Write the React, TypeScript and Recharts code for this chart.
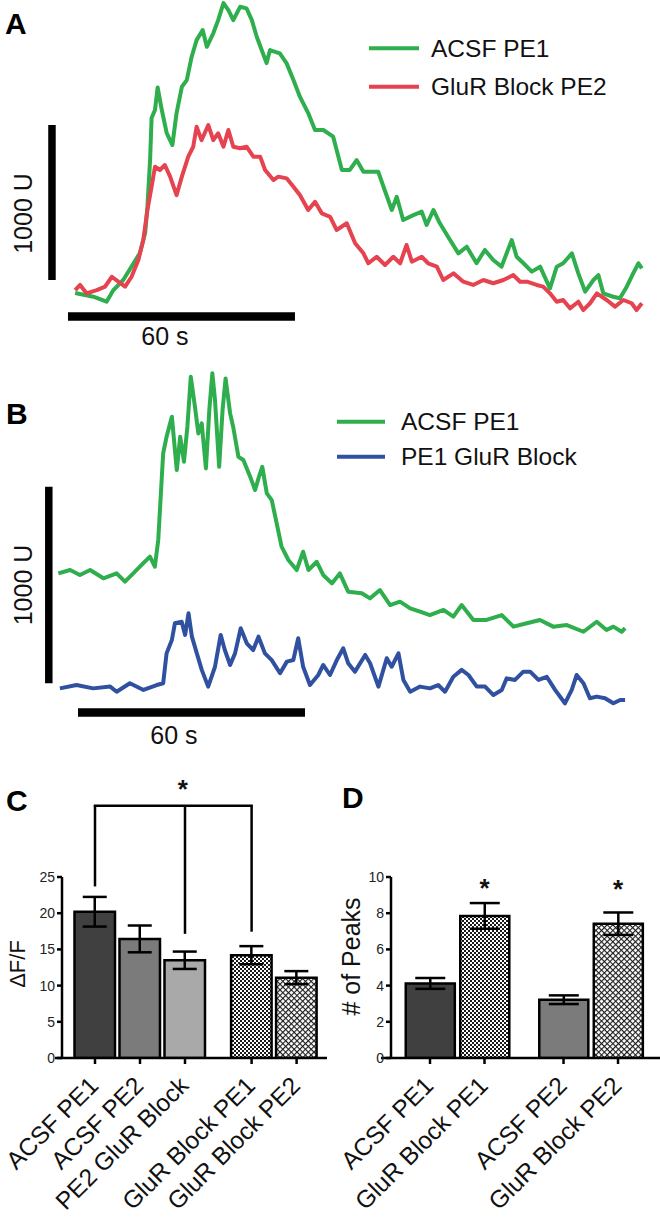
import React from 'react';
import {
  LineChart, Line, BarChart, Bar, Cell, XAxis, YAxis, ReferenceLine, ReferenceDot, ErrorBar, Legend,
} from 'recharts';

// traces: [time (s), fluorescence (U)]
const acsfPE1A: [number, number][] = [
  [1.9, 116], [6.7, 92], [10.2, 60], [12.0, 135], [14.6, 200], [16.8, 286], [19.0, 374], [20.4, 503],
  [21.0, 673], [21.7, 974], [22.1, 1245], [23.0, 1297], [23.7, 1443], [24.8, 1297], [26.1, 1148],
  [27.6, 1071], [28.7, 1277], [30.1, 1447], [31.4, 1490], [32.7, 1641], [34.0, 1748], [35.6, 1813],
  [36.7, 1705], [38.4, 1792], [39.7, 1877], [41.1, 1987], [42.4, 1942], [43.7, 1877], [45.5, 1963],
  [47.2, 1953], [48.6, 1877], [49.9, 1770], [51.2, 1684], [52.5, 1600], [53.4, 1684], [56.0, 1663],
  [57.8, 1598], [59.6, 1490], [61.3, 1383], [63.5, 1277], [65.3, 1168], [67.5, 1168], [70.1, 1125],
  [72.4, 910], [74.5, 910], [76.3, 974], [78.1, 899], [82.0, 899], [83.4, 802], [85.6, 652], [86.9, 737],
  [88.6, 587], [91.3, 619], [93.5, 641], [94.8, 555], [96.6, 652], [98.3, 566], [101.0, 458], [103.2, 372],
  [105.4, 415], [108.0, 308], [110.2, 394], [112.4, 329], [114.6, 286], [117.3, 458], [118.6, 350],
  [120.4, 308], [122.6, 254], [124.8, 286], [127.4, 146], [129.2, 286], [130.9, 308], [133.2, 372],
  [134.9, 243], [136.7, 125], [138.9, 200], [140.2, 232], [141.5, 114], [144.1, 92], [145.9, 82],
  [147.7, 157], [149.4, 243], [150.8, 308], [151.7, 275],
];

const glurBlockPE2A: [number, number][] = [
  [1.9, 135], [3.2, 168], [4.9, 114], [7.6, 135], [9.8, 157], [11.6, 221], [13.3, 189], [15.1, 157],
  [16.8, 221], [18.6, 329], [19.9, 458], [21.0, 652], [22.1, 802], [23.0, 931], [24.3, 910], [25.6, 942],
  [27.0, 867], [28.7, 748], [30.1, 867], [31.8, 996], [33.1, 1060], [34.0, 1189], [35.3, 1103], [37.1, 1200],
  [38.4, 1103], [39.7, 1147], [41.1, 1060], [42.4, 1168], [43.7, 1060], [45.5, 1050], [47.2, 1060],
  [49.0, 996], [50.8, 996], [52.1, 910], [54.3, 845], [55.6, 867], [57.8, 856], [59.6, 802], [61.3, 748],
  [63.5, 652], [65.3, 705], [67.1, 630], [69.3, 608], [71.0, 523], [73.7, 566], [75.9, 437], [78.1, 372],
  [79.4, 308], [81.6, 350], [83.8, 297], [86.0, 350], [87.8, 308], [89.5, 426], [90.9, 318], [93.5, 350],
  [95.2, 308], [97.5, 286], [99.2, 200], [101.9, 243], [104.5, 189], [107.1, 168], [109.8, 200],
  [112.4, 179], [115.1, 200], [117.7, 232], [119.5, 189], [121.3, 189], [123.9, 168], [125.6, 157],
  [127.4, 114], [129.2, 60], [130.9, 71], [132.7, 17], [134.9, 60], [136.2, 6], [138.0, 50], [139.8, 114],
  [142.4, 71], [144.6, 28], [146.8, 71], [149.0, 50], [150.3, 6], [151.7, 50],
];

const acsfPE1B: [number, number][] = [
  [0.1, 759], [3.2, 776], [5.8, 751], [8.5, 776], [12.0, 734], [15.5, 759], [17.7, 717], [19.9, 759],
  [22.1, 802], [24.3, 844], [25.6, 793], [26.5, 929], [27.2, 1166], [27.8, 1370], [28.7, 1454], [30.1, 1556],
  [31.4, 1285], [32.3, 1454], [33.3, 1327], [34.2, 1505], [35.1, 1759], [36.2, 1607], [37.1, 1471],
  [38.0, 1522], [39.1, 1293], [40.0, 1590], [40.8, 1777], [41.5, 1641], [42.6, 1301], [43.5, 1590],
  [44.3, 1751], [45.5, 1573], [46.3, 1505], [47.7, 1352], [49.0, 1336], [50.8, 1251], [52.1, 1183],
  [53.0, 1243], [54.0, 1301], [55.2, 1166], [56.5, 1132], [57.8, 1014], [59.1, 895], [60.9, 827],
  [63.1, 776], [64.8, 869], [66.2, 776], [68.4, 818], [70.1, 751], [72.4, 708], [74.5, 759], [76.7, 666],
  [80.3, 658], [82.5, 632], [85.1, 674], [87.8, 598], [90.4, 615], [93.1, 581], [95.7, 564], [98.3, 547],
  [101.9, 573], [104.5, 539], [106.7, 598], [109.8, 522], [113.3, 522], [117.3, 547], [120.4, 488],
  [123.9, 505], [127.4, 522], [130.9, 488], [134.5, 496], [138.9, 462], [142.4, 513], [145.0, 471],
  [146.8, 488], [149.0, 462], [149.9, 480],
];

const pe1GlurBlockB: [number, number][] = [
  [0.5, 174], [4.9, 191], [9.3, 174], [13.8, 183], [15.5, 157], [19.0, 200], [22.6, 166], [26.1, 191],
  [27.8, 200], [28.7, 352], [30.1, 420], [30.9, 505], [32.7, 513], [33.6, 446], [34.5, 556], [35.4, 437],
  [36.7, 352], [38.0, 268], [39.7, 183], [41.5, 284], [43.0, 446], [44.1, 369], [45.5, 293], [46.8, 352],
  [48.3, 480], [49.9, 403], [51.6, 369], [53.0, 437], [54.7, 352], [56.5, 318], [58.7, 251], [60.5, 310],
  [62.2, 318], [63.5, 429], [64.8, 284], [66.6, 191], [68.8, 242], [70.1, 293], [71.9, 242], [73.7, 318],
  [75.4, 378], [76.7, 302], [78.5, 259], [81.2, 344], [82.5, 302], [84.7, 183], [86.9, 327], [88.2, 284],
  [90.0, 352], [91.3, 217], [93.1, 157], [95.7, 183], [98.3, 174], [100.5, 191], [102.3, 157], [104.5, 233],
  [106.7, 268], [108.5, 242], [110.7, 183], [112.9, 183], [115.1, 140], [117.3, 166], [118.6, 225],
  [120.8, 217], [123.0, 259], [124.8, 259], [127.0, 217], [129.2, 233], [131.4, 166], [134.0, 98],
  [135.8, 166], [137.1, 242], [138.9, 200], [140.6, 124], [142.4, 132], [144.6, 124], [146.8, 98],
  [148.6, 115], [149.9, 115],
];

const scaleBarU = 1000;
const scaleBarS = 60;

// panel C
const dffLabels = ['ACSF PE1', 'ACSF PE2', 'PE2 GluR Block', 'GluR Block PE1', 'GluR Block PE2'];
const dffMeans = [20.2, 16.45, 13.5, 14.2, 11.1];
const dffSem = [2.05, 1.85, 1.2, 1.25, 0.9];
const dffGroup = [0, 0, 0, 1, 1];
const dffTicks = [0, 5, 10, 15, 20, 25];

// panel D
const peakLabels = ['ACSF PE1', 'GluR Block PE1', 'ACSF PE2', 'GluR Block PE2'];
const peakMeans = [4.12, 7.85, 3.22, 7.42];
const peakSem = [0.3, 0.71, 0.24, 0.62];
const peakGroup = [0, 0, 1, 1];
const peakTicks = [0, 2, 4, 6, 8, 10];

const GREEN = '#2fae4d';
const RED = '#e5434f';
const BLUE = '#3050a0';
const FONT = "'Liberation Sans', Arial, Helvetica, sans-serif";

const dffFills = ['#404040', '#7b7b7b', '#a9a9a9', 'url(#checker)', 'url(#diamond)'];
const peakFills = ['#404040', 'url(#checker)', '#7b7b7b', 'url(#diamond)'];

const toPoints = (pts: [number, number][]) => pts.map(([t, u]) => ({ t, u }));

const boxOf = (vb: any) => {
  if (vb && typeof vb.x === 'number') return vb;
  return {
    x: Math.min(vb.x1, vb.x2), y: Math.min(vb.y1, vb.y2),
    width: Math.abs(vb.x2 - vb.x1), height: Math.abs(vb.y2 - vb.y1),
  };
};

const traceLegend = (cfg: any) => (props: any) => {
  const items = props.payload || [];
  return (
    <svg width={300} height={90} style={{ display: 'block', overflow: 'visible' }}>
      {items.map((it: any, i: number) => (
        <g key={i}>
          <line x1={cfg.lineX[0]} x2={cfg.lineX[1]} y1={cfg.rowY[i]} y2={cfg.rowY[i]} stroke={it.color} strokeWidth={4} />
          <text x={cfg.textX} y={cfg.rowY[i] + 8.5} fontSize={24.5} fill="#111">{it.value}</text>
        </g>
      ))}
    </svg>
  );
};

const TracePanel = ({ cfg }: { cfg: any }) => (
  <div style={{ position: 'absolute', left: 0, top: cfg.top, width: 660, height: cfg.height }}>
    <LineChart width={660} height={cfg.height} margin={{ top: 0, right: 0, bottom: 0, left: 0 }}>
      <XAxis type="number" dataKey="t" domain={cfg.xDomain} allowDataOverflow hide />
      <YAxis type="number" domain={cfg.yDomain} allowDataOverflow hide />
      <ReferenceLine
        segment={[{ x: cfg.vBar.t, y: cfg.vBar.u0 }, { x: cfg.vBar.t, y: cfg.vBar.u0 + scaleBarU }]}
        stroke="#000" strokeWidth={7.5} ifOverflow="visible"
        label={(p: any) => {
          const b = boxOf(p.viewBox);
          const x = b.x + cfg.vBar.dx;
          const y = b.y + b.height / 2 + cfg.vBar.dy;
          return (
            <text x={x} y={y} transform={`rotate(-90 ${x} ${y})`} textAnchor="middle" fontSize={25} fill="#111">
              {`${scaleBarU} U`}
            </text>
          );
        }}
      />
      <ReferenceLine
        segment={[{ x: cfg.hBar.t0, y: cfg.hBar.u }, { x: cfg.hBar.t0 + scaleBarS, y: cfg.hBar.u }]}
        stroke="#000" strokeWidth={8.5} ifOverflow="visible"
        label={(p: any) => {
          const b = boxOf(p.viewBox);
          return (
            <text x={b.x + b.width / 2 + cfg.hBar.dx} y={b.y + cfg.hBar.dy} textAnchor="middle" fontSize={25} fill="#111">
              {`${scaleBarS} s`}
            </text>
          );
        }}
      />
      {cfg.traces.map((tr: any) => (
        <Line
          key={tr.name}
          data={toPoints(tr.data)}
          dataKey="u"
          name={tr.name}
          type="linear"
          stroke={tr.color}
          strokeWidth={4}
          strokeLinejoin="round"
          dot={false}
          activeDot={false}
          isAnimationActive={false}
        />
      ))}
      <Legend
        layout="vertical"
        align="center"
        verticalAlign="middle"
        wrapperStyle={{ left: cfg.legend.left, top: cfg.legend.top, width: 300, height: 90 }}
        content={traceLegend(cfg.legend)}
      />
    </LineChart>
  </div>
);

const panelA = {
  top: 0, height: 355, xDomain: [-17.97, 156.49], yDomain: [-284, 2007],
  traces: [
    { name: 'ACSF PE1', color: GREEN, data: acsfPE1A },
    { name: 'GluR Block PE2', color: RED, data: glurBlockPE2A },
  ],
  vBar: { t: -4.23, u0: 200, dx: -20, dy: 11 },
  hBar: { t0: 0, u: -35.5, dx: -16.5, dy: 29 },
  legend: { left: 360, top: 30, rowY: [18.3, 56.7], lineX: [9, 59], textX: 71 },
};

const panelB = {
  top: 355, height: 400, xDomain: [-15.33, 159.13], yDomain: [-165, 1870],
  traces: [
    { name: 'ACSF PE1', color: GREEN, data: acsfPE1B },
    { name: 'PE1 GluR Block', color: BLUE, data: pe1GlurBlockB },
  ],
  vBar: { t: -2.43, u0: 200, dx: -17.2, dy: 0 },
  hBar: { t0: 5.29, u: 51, dx: -17.5, dy: 31.5 },
  legend: { left: 330, top: 45, rowY: [21.7, 56.7], lineX: [7, 55], textX: 71 },
};

const Star = (p: any) => (
  <text x={p.cx} y={p.cy + 14} textAnchor="middle" fontSize={26} fontWeight="bold" fill="#111">*</text>
);

const BarPanel = ({ cfg, labels, means, sem, groups, fills, yTicks, children }: any) => {
  const rows = labels.map((name: string, i: number) => ({
    name, pos: i + groups[i] * cfg.gap, mean: means[i], sem: sem[i],
  }));
  const SlantTick = (p: any) => {
    const r = rows.find((d: any) => Math.abs(d.pos - p.payload.value) < 1e-6);
    const x = p.x + 5;
    const y = p.y + 23;
    return (
      <text x={x} y={y} transform={`rotate(-45 ${x} ${y})`} textAnchor="end" fontSize={24.5} fill="#111">
        {r ? r.name : ''}
      </text>
    );
  };
  return (
    <div style={{ position: 'absolute', left: cfg.left, top: 760, width: cfg.width, height: 458 }}>
      <BarChart width={cfg.width} height={458} data={rows} margin={cfg.margin}>
        <XAxis
          type="number" dataKey="pos" domain={cfg.xDomain} allowDataOverflow
          ticks={rows.map((r: any) => r.pos)} interval={0}
          axisLine={false} tickSize={6} tickMargin={0}
          tickLine={{ stroke: '#000', strokeWidth: 2.5 }}
          height={150} tick={<SlantTick />}
        />
        <YAxis
          type="number" domain={cfg.yDomain} allowDataOverflow ticks={yTicks} interval={0}
          width={40} tickSize={5} tickMargin={2}
          axisLine={{ stroke: '#000', strokeWidth: 2.5 }}
          tickLine={{ stroke: '#000', strokeWidth: 2.5 }}
          tick={{ fontSize: 14, fill: '#222' }}
          label={(p: any) => {
            const b = boxOf(p.viewBox);
            const x = b.x + cfg.titleDx;
            const y = b.y + b.height / 2 + cfg.titleDy;
            return (
              <text x={x} y={y} transform={`rotate(-90 ${x} ${y})`} textAnchor="middle" fontSize={cfg.titleSize} fill="#111">
                {cfg.title}
              </text>
            );
          }}
        />
        <Bar dataKey="mean" barSize={cfg.barSize} stroke="#000" strokeWidth={2.5} isAnimationActive={false}>
          {rows.map((r: any, i: number) => <Cell key={r.name} fill={fills[i]} />)}
          <ErrorBar dataKey="sem" direction="y" width={cfg.errWidth} stroke="#000" strokeWidth={2.5} />
        </Bar>
        <ReferenceLine
          segment={[{ x: cfg.axisStart, y: 0 }, { x: cfg.xDomain[1], y: 0 }]}
          stroke="#000" strokeWidth={2.5} ifOverflow="visible"
        />
        {children ? children(rows) : null}
      </BarChart>
    </div>
  );
};

const panelC = {
  left: 0, width: 335, margin: { top: 117, right: 8, bottom: 10, left: 22 },
  xDomain: [-0.7333, 5.1556], axisStart: -0.889, yDomain: [0, 25], gap: 0.48,
  barSize: 45, errWidth: 12, title: 'ΔF/F', titleSize: 22, titleDx: 3, titleDy: -3.5,
};

const panelD = {
  left: 330, width: 330, margin: { top: 117, right: 0, bottom: 10, left: 21 },
  xDomain: [-0.7156, 4.2202], axisStart: -0.9, yDomain: [0, 10], gap: 0.45,
  barSize: 54.5, errWidth: 15, title: '# of Peaks', titleSize: 25, titleDx: 9, titleDy: -11,
};

const bracketTop = 34.85;

export default function App() {
  return (
    <div style={{ position: 'absolute', left: 0, top: 0, width: 660, height: 1218, background: '#fff', fontFamily: FONT, overflow: 'hidden' }}>
      <svg width={660} height={1218} style={{ position: 'absolute', left: 0, top: 0, pointerEvents: 'none' }}>
        <defs>
          <pattern id="checker" width="4" height="4" patternUnits="userSpaceOnUse">
            <rect width="4" height="4" fill="#fff" />
            <rect width="2" height="2" fill="#1a1a1a" />
            <rect x="2" y="2" width="2" height="2" fill="#1a1a1a" />
          </pattern>
          <pattern id="diamond" width="4" height="4" patternUnits="userSpaceOnUse" patternTransform="rotate(45)">
            <rect width="4" height="4" fill="#1a1a1a" />
            <rect x="1.1" y="1.1" width="2.9" height="2.9" fill="#fff" />
          </pattern>
        </defs>
        <g fontFamily={FONT} fontWeight="bold" fontSize={30} fill="#000">
          <text x={5} y={34}>A</text>
          <text x={6} y={424}>B</text>
          <text x={6} y={811}>C</text>
          <text x={342} y={808}>D</text>
        </g>
      </svg>
      <TracePanel cfg={panelA} />
      <TracePanel cfg={panelB} />
      <BarPanel cfg={panelC} labels={dffLabels} means={dffMeans} sem={dffSem} groups={dffGroup} fills={dffFills} yTicks={dffTicks}>
        {(rows: any[]) => [
          <ReferenceLine key="h" segment={[{ x: rows[0].pos, y: bracketTop }, { x: rows[3].pos, y: bracketTop }]}
            stroke="#000" strokeWidth={2.5} strokeLinecap="square" ifOverflow="visible" />,
          <ReferenceLine key="v0" segment={[{ x: rows[0].pos, y: 23.7 }, { x: rows[0].pos, y: bracketTop }]}
            stroke="#000" strokeWidth={2.5} ifOverflow="visible" />,
          <ReferenceLine key="v2" segment={[{ x: rows[2].pos, y: 17.15 }, { x: rows[2].pos, y: bracketTop }]}
            stroke="#000" strokeWidth={2.5} ifOverflow="visible" />,
          <ReferenceLine key="v3" segment={[{ x: rows[3].pos, y: 17.45 }, { x: rows[3].pos, y: bracketTop }]}
            stroke="#000" strokeWidth={2.5} ifOverflow="visible" />,
          <ReferenceDot key="s" x={rows[2].pos - 0.05} y={37.8} r={1} ifOverflow="visible" shape={Star} />,
        ]}
      </BarPanel>
      <BarPanel cfg={panelD} labels={peakLabels} means={peakMeans} sem={peakSem} groups={peakGroup} fills={peakFills} yTicks={peakTicks}>
        {(rows: any[]) => [
          <ReferenceDot key="s1" x={rows[1].pos} y={9.68} r={1} ifOverflow="visible" shape={Star} />,
          <ReferenceDot key="s3" x={rows[3].pos} y={9.6} r={1} ifOverflow="visible" shape={Star} />,
        ]}
      </BarPanel>
    </div>
  );
}
